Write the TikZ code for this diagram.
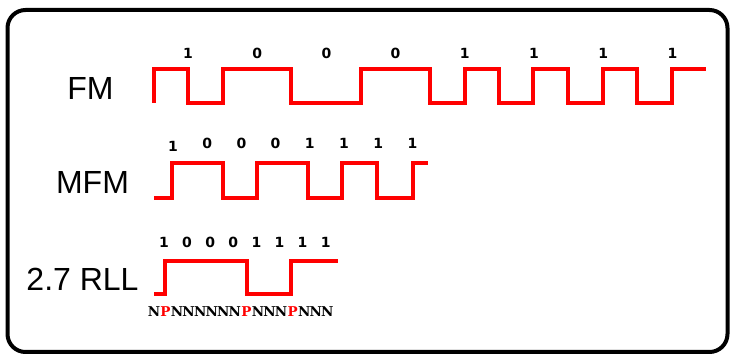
\documentclass[tikz,border=0pt]{standalone}
\usepackage{fontspec}
\setmainfont{Liberation Sans}
\newfontfamily\bitfont{DejaVu Sans}
\newfontfamily\codefont{DejaVu Serif}
\definecolor{sigred}{RGB}{255,0,0}
\newcommand{\cbox}[2]{\makebox[11.56pt][c]{\textcolor{#1}{#2}}}
\begin{document}
\begin{tikzpicture}[x=1pt,y=-1pt,
  wave/.style={draw=sigred,line width=4pt,line join=miter},
  lbl/.style={inner sep=0pt,font=\fontsize{32}{32}\selectfont},
  bit/.style={inner sep=0pt,font=\bitfont\bfseries\fontsize{14}{14}\selectfont},
  code/.style={inner sep=0pt,anchor=west,font=\codefont\bfseries\fontsize{13.5}{13.5}\selectfont}]
\useasboundingbox (0,0) rectangle (732,355);
\draw[line width=4pt,rounded corners=18pt] (7.5,10) rectangle (727.5,352);
% labels
\node[lbl] (fm) at (90.5,88) {FM};
\node[lbl] (mfm) at (92.5,182) {MFM};
\node[lbl] (rll) at (82.5,279) {2.7 RLL};
% FM waveform
\draw[wave] (154,103) -- (154,69.5) -- (188,69.5) -- (188,103) -- (222.5,103) -- (222.5,69.5)
  -- (291,69.5) -- (291,103) -- (361,103) -- (361,69.5) -- (430,69.5) -- (430,103)
  -- (465,103) -- (465,69.5) -- (499,69.5) -- (499,103) -- (533,103) -- (533,69.5)
  -- (568,69.5) -- (568,103) -- (602.5,103) -- (602.5,69.5) -- (637,69.5) -- (637,103)
  -- (672,103) -- (672,69.5) -- (706,69.5);
\foreach \b [count=\i from 0] in {1,0,0,0,1,1,1,1}
  \node[bit] (fmb\i) at ({188+69.2*\i},53) {\b};
% MFM waveform
\draw[wave] (154,198) -- (172,198) -- (172,163) -- (223,163) -- (223,198) -- (257,198)
  -- (257,163) -- (308,163) -- (308,198) -- (342,198) -- (342,163) -- (377,163)
  -- (377,198) -- (412.5,198) -- (412.5,163) -- (428,163);
\node[bit] (mfmb0) at (173,146.5) {1};
\foreach \b [count=\i from 1] in {0,0,0,1,1,1,1}
  \node[bit] (mfmb\i) at ({173+34.2*\i},143.5) {\b};
% RLL waveform
\draw[wave] (154,294) -- (164.5,294) -- (164.5,261) -- (247,261) -- (247,294) -- (291,294)
  -- (291,261) -- (338,261);
\foreach \b [count=\i from 0] in {1,0,0,0,1,1,1,1}
  \node[bit] (rllb\i) at ({164+23.1*\i},242) {\b};
\node[code] (npn) at (148,312) {\cbox{black}{N}\cbox{sigred}{P}\cbox{black}{N}\cbox{black}{N}\cbox{black}{N}\cbox{black}{N}\cbox{black}{N}\cbox{black}{N}\cbox{sigred}{P}\cbox{black}{N}\cbox{black}{N}\cbox{black}{N}\cbox{sigred}{P}\cbox{black}{N}\cbox{black}{N}\cbox{black}{N}};
\end{tikzpicture}
\end{document}
